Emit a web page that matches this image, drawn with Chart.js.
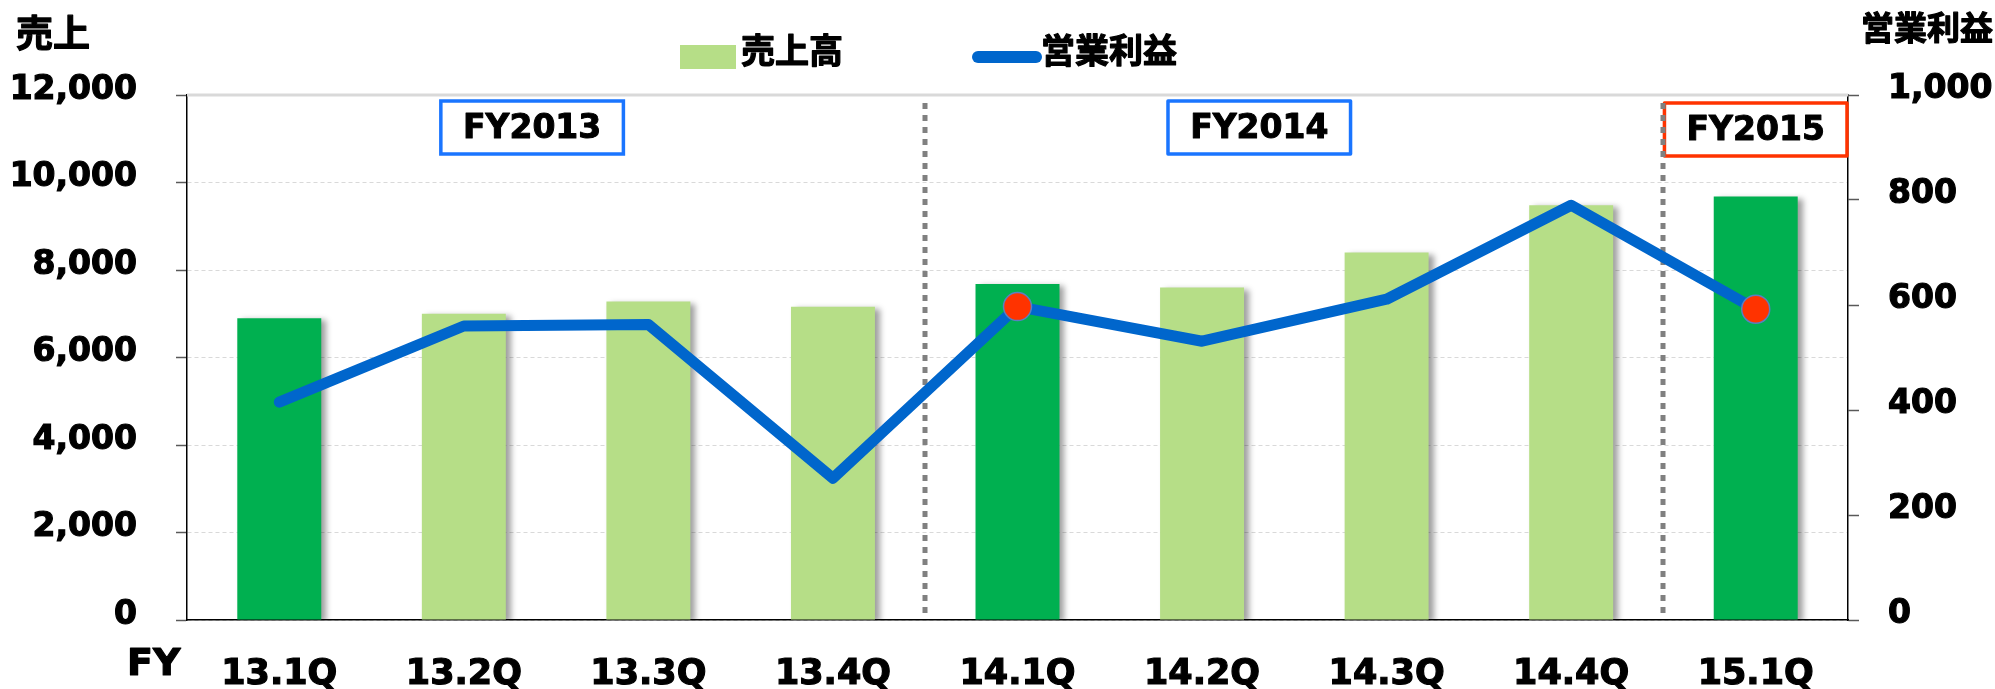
<!DOCTYPE html>
<html>
<head>
<meta charset="utf-8">
<script src="https://cdn.jsdelivr.net/npm/chart.js@4.4.1/dist/chart.umd.min.js"></script>
<style>
  html, body { margin: 0; padding: 0; background: #fff; }
  #wrap { width: 1995px; height: 689px; }
</style>
</head>
<body>
<div id="wrap"><canvas id="chart" width="1995" height="689"></canvas></div>
<script>
// quarters and values
const quarters = ['13.1Q', '13.2Q', '13.3Q', '13.4Q', '14.1Q', '14.2Q', '14.3Q', '14.4Q', '15.1Q'];
const sales = [6900, 7000, 7280, 7160, 7680, 7600, 8400, 9480, 9680];
const opProfit = [415, 560, 563, 270, 597, 531, 611, 790, 592];
const salesTicks = [0, 2000, 4000, 6000, 8000, 10000, 12000];
const profitTicks = [0, 200, 400, 600, 800, 1000];
const fyLabels = ['FY2013', 'FY2014', 'FY2015'];
const fyCenters = [1.37, 5.31, 8];          // in category units
const fySeparators = [3.5, 7.5];            // between 13.4Q/14.1Q and 14.4Q/15.1Q

const DARK_GREEN = '#00B050';
const LIGHT_GREEN = '#B6DE87';
const BLUE = '#0066CC';
const RED = '#FF3300';
const NUM_FONT = '"DejaVu Sans", sans-serif';
const JP_FONT = '"Noto Sans CJK JP", sans-serif';

const barColors = quarters.map(q => q.endsWith('.1Q') ? DARK_GREEN : LIGHT_GREEN);
const markRadius = quarters.map((q, i) => (i >= 4 && q.endsWith('.1Q')) ? 14 : 0);

// draws text a bit heavier, like the original
function boldText(ctx, text, x, y, w) {
  ctx.lineWidth = w;
  ctx.strokeStyle = '#000';
  ctx.lineJoin = 'round';
  ctx.strokeText(text, x, y);
  ctx.fillText(text, x, y);
}

const barShadow = {
  id: 'barShadow',
  beforeDatasetDraw(chart, args) {
    if (args.index !== 0) return;
    const ctx = chart.ctx;
    ctx.save();
    ctx.shadowColor = 'rgba(0,0,0,0.38)';
    ctx.shadowBlur = 6;
    ctx.shadowOffsetX = 5;
    ctx.shadowOffsetY = 2;
  },
  afterDatasetDraw(chart, args) {
    if (args.index === 0) chart.ctx.restore();
  }
};

const extras = {
  id: 'extras',
  beforeDatasetsDraw(chart) {
    const { ctx, chartArea: a, scales: { x } } = chart;
    ctx.save();
    // solid top line
    ctx.strokeStyle = '#D9D9D9';
    ctx.lineWidth = 3;
    ctx.beginPath();
    ctx.moveTo(a.left, a.top);
    ctx.lineTo(a.right, a.top);
    ctx.stroke();

    // fiscal year boxes
    const step = x.getPixelForValue(1) - x.getPixelForValue(0);
    fyLabels.forEach((label, i) => {
      const cx = x.getPixelForValue(fyCenters[i]);
      const w = step - 2;
      const top = a.top + (i === 2 ? 8 : 6);
      ctx.fillStyle = '#fff';
      ctx.fillRect(cx - w / 2, top, w, 53);
      ctx.strokeStyle = i === 2 ? RED : '#1A75FF';
      ctx.lineWidth = 3.5;
      ctx.strokeRect(cx - w / 2, top, w, 53);
      ctx.fillStyle = '#000';
      ctx.font = 'bold 33px ' + NUM_FONT;
      ctx.textAlign = 'center';
      ctx.textBaseline = 'middle';
      boldText(ctx, label, cx, top + 28, 1);
    });

    // dotted separators
    ctx.strokeStyle = '#808080';
    ctx.lineWidth = 5;
    ctx.setLineDash([6, 6]);
    fySeparators.forEach(v => {
      const px = Math.round(x.getPixelForValue(v));
      ctx.beginPath();
      ctx.moveTo(px, a.top + 8);
      ctx.lineTo(px, a.bottom - 7);
      ctx.stroke();
    });
    ctx.restore();
  },
  afterDraw(chart) {
    const ctx = chart.ctx;
    ctx.save();
    ctx.fillStyle = '#000';
    ctx.textBaseline = 'middle';

    // axis titles
    ctx.font = 'bold 37px ' + JP_FONT;
    ctx.textAlign = 'left';
    boldText(ctx, '売上', 16, 33, 1.2);
    ctx.font = 'bold 33px ' + JP_FONT;
    ctx.textAlign = 'right';
    boldText(ctx, '営業利益', 1993, 27, 1.2);

    ctx.font = 'bold 38px ' + NUM_FONT;
    ctx.textAlign = 'left';
    boldText(ctx, 'FY', 127, 665, 1.2);

    // legend
    const ds = chart.data.datasets;
    ctx.fillStyle = LIGHT_GREEN;
    ctx.fillRect(680, 45, 56, 24);
    ctx.fillStyle = '#000';
    ctx.font = 'bold 34px ' + JP_FONT;
    boldText(ctx, ds[0].label, 741, 50, 1.2);

    ctx.strokeStyle = BLUE;
    ctx.lineWidth = 12;
    ctx.lineCap = 'round';
    ctx.beginPath();
    ctx.moveTo(978, 57);
    ctx.lineTo(1036, 57);
    ctx.stroke();
    boldText(ctx, ds[1].label, 1041, 50, 1.2);
    ctx.restore();
  }
};

const tickFont = { family: NUM_FONT, size: 33, weight: 'bold' };

const ctx = document.getElementById('chart').getContext('2d');
new Chart(ctx, {
  type: 'bar',
  data: {
    labels: quarters,
    datasets: [
      {
        label: '売上高',
        data: sales,
        backgroundColor: barColors,
        barPercentage: 0.455,
        categoryPercentage: 1,
        yAxisID: 'y',
        order: 2
      },
      {
        type: 'line',
        label: '営業利益',
        data: opProfit,
        borderColor: BLUE,
        borderWidth: 11,
        borderCapStyle: 'round',
        borderJoinStyle: 'round',
        tension: 0,
        pointRadius: markRadius,
        pointHoverRadius: markRadius,
        pointBackgroundColor: RED,
        pointBorderColor: '#5B7FBF',
        pointBorderWidth: 1.5,
        yAxisID: 'y1',
        order: 1
      }
    ]
  },
  options: {
    responsive: false,
    animation: false,
    layout: { padding: { top: 95, left: 0, right: 0, bottom: 0 } },
    plugins: {
      legend: { display: false },
      tooltip: { enabled: false }
    },
    scales: {
      x: {
        offset: true,
        grid: { display: false },
        border: { color: '#000', width: 1.5 },
        ticks: {
          color: '#000',
          font: { family: NUM_FONT, size: 35, weight: 'bold' },
          textStrokeColor: '#000',
          textStrokeWidth: 1.2,
          padding: 26,
          maxRotation: 0,
          autoSkip: false
        },
        afterFit(scale) { scale.height = 69; }
      },
      y: {
        position: 'left',
        min: 0,
        max: 12000,
        afterBuildTicks(scale) { scale.ticks = salesTicks.map(v => ({ value: v })); },
        grid: {
          color: '#D9D9D9',
          lineWidth: 1,
          tickLength: 11,
          tickColor: '#595959',
          tickWidth: 1.5
        },
        border: { color: '#000', width: 1.5, dash: [4, 3] },
        ticks: {
          color: '#000',
          font: tickFont,
          textStrokeColor: '#000',
          textStrokeWidth: 1.2,
          padding: 39,
          labelOffset: -5,
          callback: v => v.toLocaleString('en-US')
        },
        afterFit(scale) { scale.width = 187; }
      },
      y1: {
        position: 'right',
        min: 0,
        max: 1000,
        afterBuildTicks(scale) { scale.ticks = profitTicks.map(v => ({ value: v })); },
        grid: {
          drawOnChartArea: false,
          tickLength: 11,
          tickColor: '#595959',
          tickWidth: 1.5
        },
        border: { color: '#000', width: 1.5 },
        ticks: {
          color: '#000',
          font: tickFont,
          textStrokeColor: '#000',
          textStrokeWidth: 1.2,
          padding: 29,
          labelOffset: -6,
          callback: v => v.toLocaleString('en-US')
        },
        afterFit(scale) { scale.width = 147; }
      }
    }
  },
  plugins: [barShadow, extras]
});
</script>
</body>
</html>
